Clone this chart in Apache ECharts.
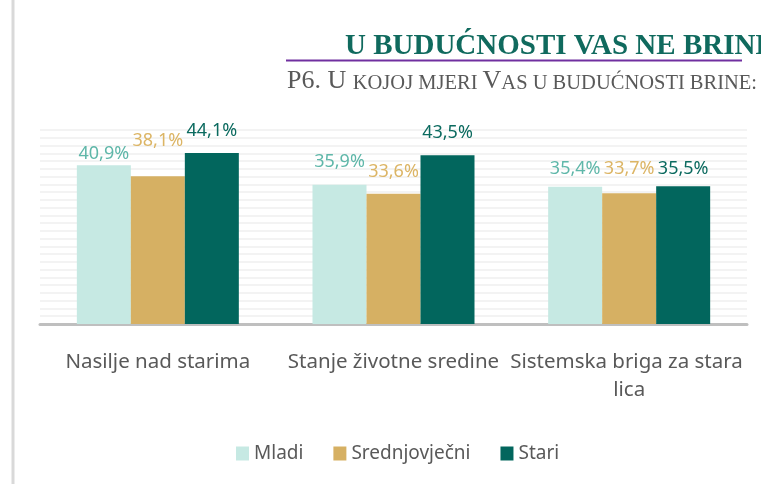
<!DOCTYPE html>
<html>
<head>
<meta charset="utf-8">
<script src="https://cdn.jsdelivr.net/npm/echarts@6/dist/echarts.min.js"></script>
<style>
  html, body { margin: 0; padding: 0; background: #fff; }
  #chart { width: 761px; height: 484px; }
</style>
</head>
<body>
<div id="chart"></div>
<script>
// kategorije i vrijednosti (procenti)
const categories = ['Nasilje nad starima', 'Stanje životne sredine', 'Sistemska briga za stara lica'];
const seriesNames = ['Mladi', 'Srednjovječni', 'Stari'];
const mladi = [40.9, 35.9, 35.4];
const srednjovjecni = [38.1, 33.6, 33.7];
const stari = [44.1, 43.5, 35.5];

// razmak labele od vrha stubica (kao u Excelu, labele nisu poravnate)
const liftMladi = [2, 14, 9];
const liftSrednji = [26, 13, 15];
const liftStari = [13, 13, 8];

const sans = '"Noto Sans", "Open Sans", sans-serif';
const serif = '"Liberation Serif", "DejaVu Serif", serif';

const fmt = (p) => p.value.toFixed(1).replace('.', ',') + '%';

const makeSeries = (name, vals, lift, color, labelColor) => ({
  name: name,
  type: 'bar',
  barWidth: 54,
  barGap: '0%',
  itemStyle: { color: color },
  label: {
    show: true,
    position: 'top',
    color: labelColor,
    fontFamily: sans,
    fontSize: 18,
    formatter: fmt
  },
  data: vals.map((v, i) => ({ value: v, label: { distance: lift[i] } }))
});

const chart = echarts.init(document.getElementById('chart'));
chart.setOption({
  animation: false,
  backgroundColor: '#ffffff',
  grid: { left: 40, right: 14, top: 130, bottom: 160 },
  title: [
    {
      text: 'U BUDUĆNOSTI VAS NE BRINE',
      left: 345,
      top: 32,
      padding: 0,
      textStyle: { fontFamily: serif, fontWeight: 'bold', fontSize: 29, color: '#106a5e' }
    },
    {
      text: '{b|P6. U }{s|KOJOJ MJERI }{b|V}{s|AS U BUDUĆNOSTI BRINE:}',
      left: 287,
      top: 66,
      padding: 0,
      textStyle: {
        fontWeight: 'normal',
        rich: {
          b: { fontFamily: serif, fontWeight: 'normal', fontSize: 26, color: '#595959', lineHeight: 28, verticalAlign: 'bottom' },
          s: { fontFamily: serif, fontWeight: 'normal', fontSize: 20.5, color: '#595959', lineHeight: 28, verticalAlign: 'bottom' }
        }
      }
    }
  ],
  graphic: [
    { type: 'line', shape: { x1: 13, y1: 0, x2: 13, y2: 484 }, style: { stroke: '#d9d9d9', lineWidth: 3 } },
    { type: 'line', shape: { x1: 286, y1: 60.5, x2: 742, y2: 60.5 }, style: { stroke: '#7030a0', lineWidth: 2 } }
  ],
  legend: {
    data: seriesNames,
    left: 236,
    top: 444,
    padding: 0,
    icon: 'rect',
    itemWidth: 13,
    itemHeight: 14,
    itemGap: 30,
    textStyle: { fontFamily: sans, fontSize: 19, color: '#595959' }
  },
  xAxis: {
    type: 'category',
    data: categories,
    axisTick: { show: false },
    axisLine: { lineStyle: { color: '#bfbfbf', width: 3 } },
    axisLabel: {
      interval: 0,
      margin: 24,
      fontFamily: sans,
      fontSize: 20.5,
      lineHeight: 28,
      color: '#595959',
      width: 250,
      overflow: 'break'
    }
  },
  yAxis: {
    type: 'value',
    min: 0,
    max: 50,
    interval: 2,
    axisLabel: { show: false },
    axisLine: { show: false },
    axisTick: { show: false },
    splitLine: { lineStyle: { color: '#efefef', width: 1.5 } }
  },
  series: [
    makeSeries('Mladi', mladi, liftMladi, '#c6e9e3', '#5fb7a9'),
    makeSeries('Srednjovječni', srednjovjecni, liftSrednji, '#d6b063', '#dcb565'),
    makeSeries('Stari', stari, liftStari, '#02665d', '#0b6a5f')
  ]
});
</script>
</body>
</html>
